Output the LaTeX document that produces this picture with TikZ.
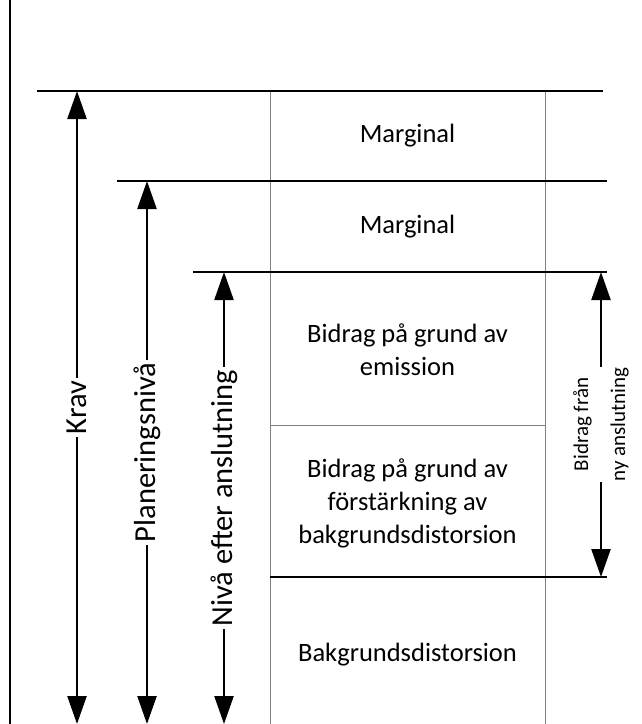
\documentclass[tikz,border=0pt]{standalone}
\usepackage{fontspec}
\setmainfont{Carlito}
\usetikzlibrary{arrows.meta}
\begin{document}
\begin{tikzpicture}[x=1pt,y=-1pt,
  level/.style={line width=2.4pt},
  gridline/.style={line width=1pt, draw=black!50},
  dim/.style={line width=2.4pt,
    {Triangle[length=28pt,width=19pt]}-{Triangle[length=28pt,width=19pt]}},
  vlabel/.style={rotate=90, fill=white, inner sep=3pt,
    font=\fontsize{30.5}{36}\selectfont},
  cell/.style={align=center, font=\fontsize{26.5}{33}\selectfont},
  note/.style={rotate=90, fill=white, inner sep=1pt, align=center,
    font=\fontsize{21}{37}\selectfont}]
\useasboundingbox (0,0) rectangle (641,724);

% vertical axis on the left
\draw[level] (10,0) -- (10,724);

% thin column borders and cell divider
\draw[gridline] (270,91) -- (270,724);
\draw[gridline] (545,91) -- (545,724);
\draw[gridline] (270,425) -- (545,425);

% level lines
\draw[level] (37,91) -- (603,91);
\draw[level] (117,181) -- (607,181);
\draw[level] (193,272) -- (607,272);
\draw[level] (270,577) -- (607,577);

% arrow end points
\coordinate (kravTop) at (77,91);
\coordinate (kravBot) at (77,724);
\coordinate (planTop) at (147,181);
\coordinate (planBot) at (147,724);
\coordinate (nivaTop) at (224,272);
\coordinate (nivaBot) at (224,724);
\coordinate (bidrTop) at (601,272);
\coordinate (bidrBot) at (601,577);

% dimension arrows with their labels
\draw[dim] (kravTop) -- node[vlabel] (krav) {Krav} (kravBot);
\draw[dim] (planTop) -- node[vlabel] (plan) {Planeringsnivå} (planBot);
\draw[dim] (nivaTop) -- node[vlabel] (niva) {Nivå efter anslutning} (nivaBot);
\draw[dim] (bidrTop) -- node[note] (bidr) {Bidrag från\\ny anslutning} (bidrBot);

% cell texts
\node[cell] (marg1) at (407.5,136) {Marginal};
\node[cell] (marg2) at (407.5,227) {Marginal};
\node[cell] (emis) at (407.5,350) {Bidrag på grund av\\emission};
\node[cell] (forst) at (407.5,503) {Bidrag på grund av\\förstärkning av\\bakgrundsdistorsion};
\node[cell] (bakg) at (407.5,655) {Bakgrundsdistorsion};
\end{tikzpicture}
\end{document}
